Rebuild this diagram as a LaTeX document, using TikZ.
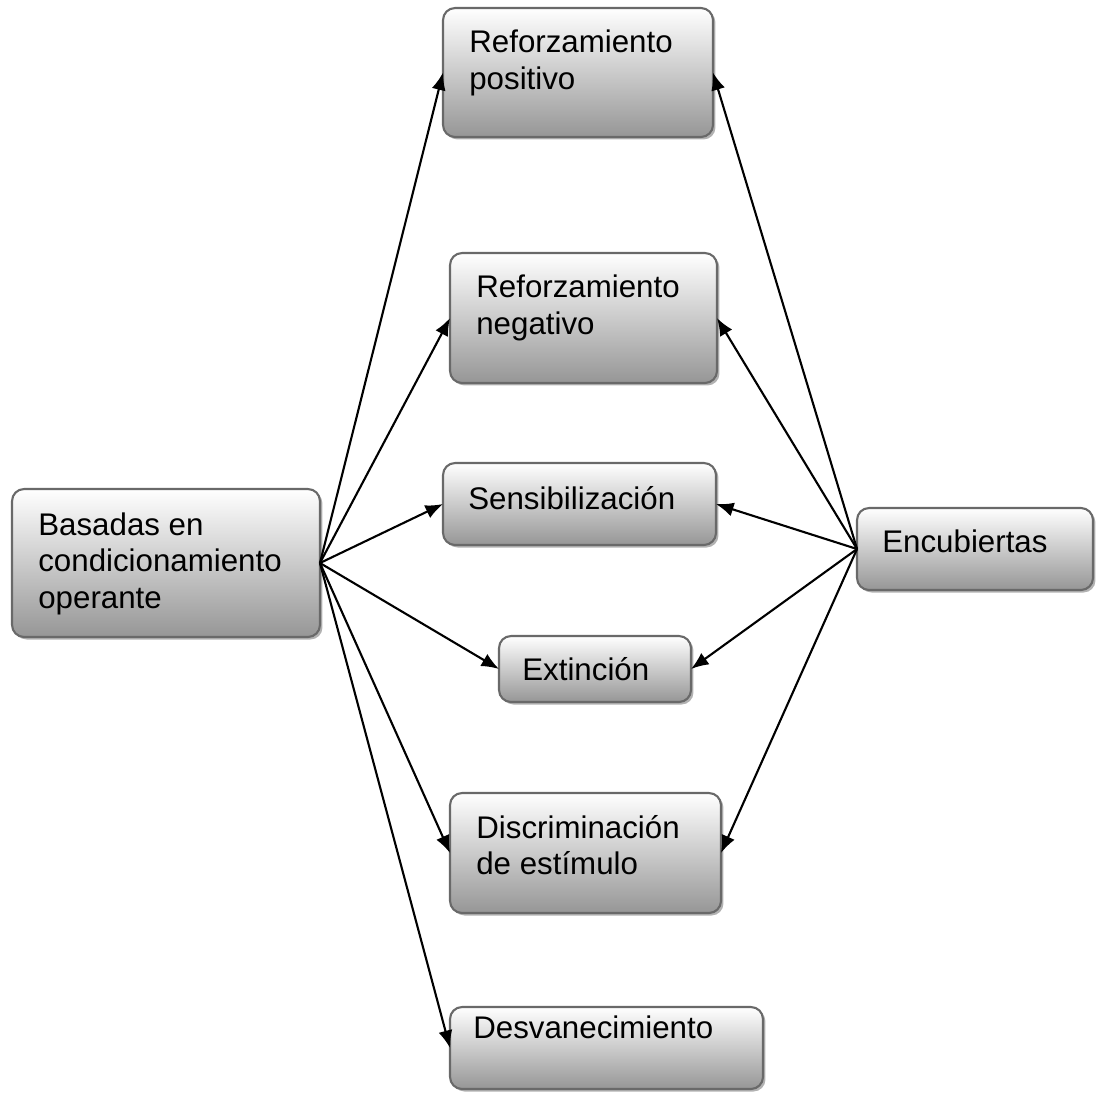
\documentclass[tikz,border=0pt]{standalone}
\usepackage{fontspec}
\setmainfont{Liberation Sans}
\usetikzlibrary{arrows.meta,shadows}
\begin{document}
\begin{tikzpicture}[x=0.02cm,y=-0.02cm,
  box/.style={draw={rgb,255:red,105;green,105;blue,105}, line width=1.2pt,
    rounded corners=0.24cm, inner sep=0pt, outer sep=0pt,
    top color=white, bottom color={rgb,255:red,150;green,150;blue,150},
    drop shadow={shadow xshift=0.05cm, shadow yshift=-0.05cm, fill=black, opacity=0.3}},
  lbl/.style={anchor=base west, inner sep=0pt, align=left,
    font=\fontsize{17.8}{20.5}\selectfont},
  link/.style={line width=1.2pt, -{Latex[length=10pt,width=8pt]}}]
\useasboundingbox (0,0) rectangle (1098,1093);

% boxes
\node[box, minimum width=6.16cm, minimum height=2.96cm] (bas) at (166,563) {};
\node[box, minimum width=5.40cm, minimum height=2.58cm] (rp)  at (578,72.5) {};
\node[box, minimum width=5.34cm, minimum height=2.60cm] (rn)  at (583.5,318) {};
\node[box, minimum width=5.46cm, minimum height=1.64cm] (sen) at (579.5,504) {};
\node[box, minimum width=3.84cm, minimum height=1.32cm] (ext) at (595,669) {};
\node[box, minimum width=5.42cm, minimum height=2.40cm] (dis) at (585.5,853) {};
\node[box, minimum width=6.26cm, minimum height=1.64cm] (des) at (606.5,1048) {};
\node[box, minimum width=4.72cm, minimum height=1.64cm] (enc) at (975,549) {};

% labels (base anchor sits on the last line's baseline)
\node[lbl] (basT) at (38,608) {Basadas en\\condicionamiento\\operante};
\node[lbl] (rpT)  at (469,89)  {Reforzamiento\\positivo};
\node[lbl] (rnT)  at (476,334) {Reforzamiento\\negativo};
\node[lbl] (senT) at (468,509) {Sensibilización};
\node[lbl] (extT) at (522,680) {Extinción};
\node[lbl] (disT) at (476,874) {Discriminación\\de estímulo};
\node[lbl] (desT) at (473,1038) {Desvanecimiento};
\node[lbl] (encT) at (882,552) {Encubiertas};

% connectors from the left box
\foreach \t in {rp,rn,sen,ext,dis,des}
  \draw[link] (bas.east) -- (\t.west);
% connectors from the right box
\foreach \t in {rp,rn,sen,ext,dis}
  \draw[link] (enc.west) -- (\t.east);
\end{tikzpicture}
\end{document}
